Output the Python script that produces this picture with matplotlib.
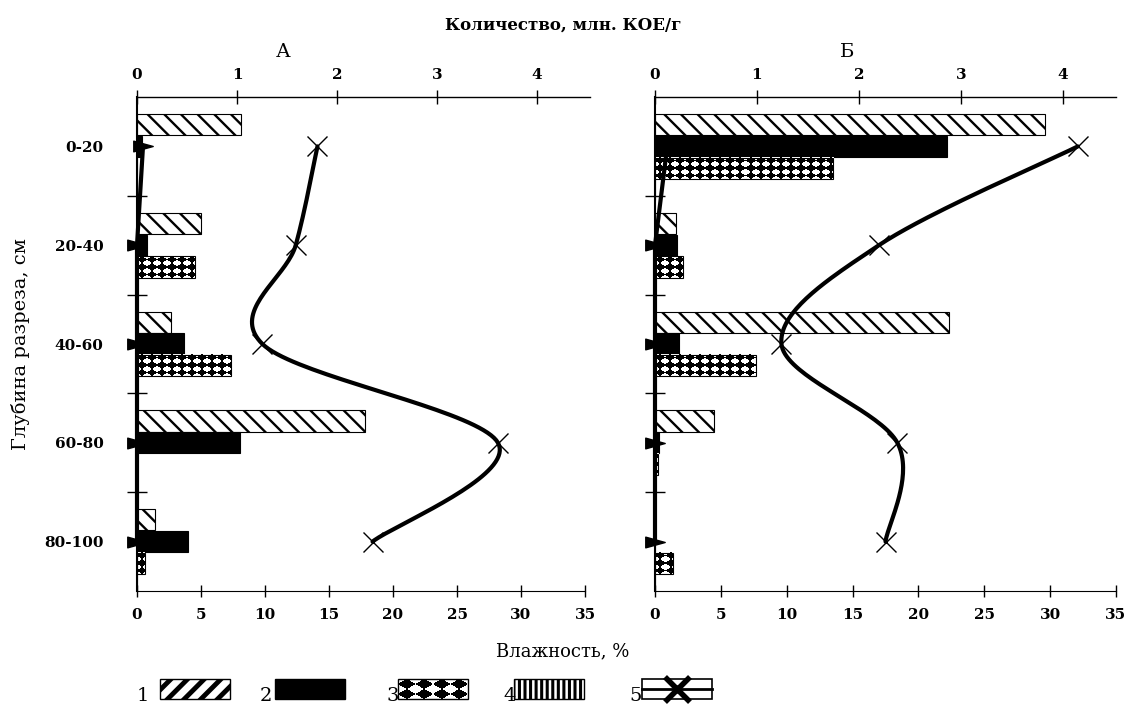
import numpy as np
import matplotlib
matplotlib.use("Agg")
import matplotlib.pyplot as plt
from matplotlib.path import Path
from matplotlib.patches import Rectangle

# ---------------- data ----------------
depths = ['0-20', '20-40', '40-60', '60-80', '80-100']
count_ticks = [0, 1, 2, 3, 4]
moist_ticks = [0, 5, 10, 15, 20, 25, 30, 35]

# Panel A  (Количество, млн. КОЕ/г)
A_s1 = [1.04, 0.64, 0.34, 2.28, 0.18]
A_s2 = [0.05, 0.10, 0.47, 1.03, 0.51]
A_s3 = [0.00, 0.58, 0.94, 0.00, 0.08]
A_s4 = [0.00, 0.00, 0.00, 0.00, 0.00]
A_tri = [0.06, 0.00, 0.00, 0.00, 0.00]
A_moist = [14.1, 12.4, 9.8, 28.2, 18.4]   # Влажность, %

# Panel Б
B_s1 = [3.82, 0.21, 2.88, 0.58, 0.00]
B_s2 = [2.86, 0.22, 0.24, 0.04, 0.00]
B_s3 = [1.75, 0.27, 0.99, 0.03, 0.18]
B_s4 = [0.00, 0.00, 0.00, 0.00, 0.00]
B_tri = [0.12, 0.00, 0.00, 0.00, 0.00]
B_moist = [32.1, 17.0, 9.6, 18.4, 17.5]

legend_labels = ['1', '2', '3', '4', '5']

# ---------------- style ----------------
SERIF = 'DejaVu Serif'
plt.rcParams['font.family'] = [SERIF]
plt.rcParams['hatch.linewidth'] = 1.7

W, H = 1126, 706
fig = plt.figure(figsize=(W / 100, H / 100), dpi=100)

tri_marker = Path([(-1, -0.55), (1, 0), (-1, 0.55), (-1, -0.55)],
                  [Path.MOVETO, Path.LINETO, Path.LINETO, Path.CLOSEPOLY])


def diamond_img(wpx, hpx, px, py, a, b):
    jj, ii = np.meshgrid(np.arange(wpx) + 0.5, np.arange(hpx) + 0.5)
    dx = (jj % px) - px / 2
    dy = (ii % py) - py / 2
    return np.where(np.abs(dx) / a + np.abs(dy) / b <= 1, 0.0, 1.0)


def smooth(ax, xs, ys, n=40):
    pts = ax.transData.transform(np.column_stack([xs, ys]))
    P = np.vstack([pts[0], pts, pts[-1]])
    out = []
    for i in range(1, len(P) - 2):
        p0, p3 = P[i], P[i + 1]
        c1 = p0 + (P[i + 1] - P[i - 1]) / 6
        c2 = p3 - (P[i + 2] - P[i]) / 6
        t = np.linspace(0, 1, n)[:, None]
        seg = ((1 - t) ** 3) * p0 + 3 * ((1 - t) ** 2) * t * c1 + 3 * (1 - t) * t ** 2 * c2 + t ** 3 * p3
        out.append(seg if i == 1 else seg[1:])
    out = np.vstack(out)
    return ax.transData.inverted().transform(out)


def panel(rect, s1, s2, s3, s4, tri, moist, cmax, mmax, show_y):
    ax = fig.add_axes(rect)
    ax.set_xlim(0, cmax)
    ax.set_ylim(4.5, -0.5)
    y = np.arange(len(depths))
    h = 0.215
    ax.barh(y - 0.22, s1, height=h, color='white', edgecolor='black', hatch='\\\\', lw=0.8, zorder=2)
    ax.barh(y, s2, height=h, color='black', edgecolor='black', lw=0.8, zorder=2)
    ax.barh(y + 0.44, s4, height=h, color='white', edgecolor='black', hatch='||', lw=0.8, zorder=2)
    # series 3: diamond pattern bars
    for yi, v in zip(y + 0.22, s3):
        if v <= 0:
            continue
        p0 = ax.transData.transform((0, yi - h / 2))
        p1 = ax.transData.transform((v, yi + h / 2))
        wpx = int(round(abs(p1[0] - p0[0])))
        hpx = int(round(abs(p1[1] - p0[1])))
        if wpx >= 1 and hpx >= 1:
            img = diamond_img(wpx, hpx, 10, 7, 5.2, 3.6)
            ax.imshow(img, cmap='gray', vmin=0, vmax=1, extent=(0, v, yi + h / 2, yi - h / 2),
                      aspect='auto', interpolation='nearest', zorder=2.1)
    ax.barh(y + 0.22, s3, height=h, fill=False, edgecolor='black', lw=0.8, zorder=2.2)

    # line with triangle markers (counts, near zero)
    ax.plot(tri, y, color='black', lw=3, marker=tri_marker, markersize=14,
            clip_on=False, zorder=5)

    axb = ax.twiny()
    # restore count axis on top
    ax.xaxis.tick_top()
    ax.xaxis.set_label_position('top')
    ax.set_xlim(0, cmax)
    ax.set_ylim(4.5, -0.5)
    ax.set_xticks(count_ticks)
    ax.set_xticklabels([str(t) for t in count_ticks], fontweight='bold', fontsize=11)
    ax.tick_params(axis='x', which='both', top=True, bottom=False, labeltop=True, labelbottom=False,
                   direction='inout', length=10, width=1, pad=6)
    ax.set_yticks(y)
    if show_y:
        ax.set_yticklabels(depths, fontweight='bold', fontsize=11)
    else:
        ax.set_yticklabels([])
    ax.tick_params(axis='y', length=0, pad=24)
    ax.set_yticks([0.5, 1.5, 2.5, 3.5], minor=True)
    ax.tick_params(axis='y', which='minor', direction='inout', length=14, width=1)
    for s in ['right', 'bottom']:
        ax.spines[s].set_visible(False)
    ax.spines['left'].set_linewidth(1.5)
    ax.spines['top'].set_linewidth(1.0)

    axb.set_xlim(0, mmax)
    axb.set_ylim(4.5, -0.5)
    axb.set_xticks(moist_ticks)
    axb.set_xticklabels([str(t) for t in moist_ticks], fontweight='bold', fontsize=11)
    axb.tick_params(axis='x', which='both', top=False, bottom=True, labeltop=False, labelbottom=True,
                    direction='inout', length=9, width=1, pad=8)
    for s in ['right', 'top', 'left']:
        axb.spines[s].set_visible(False)
    axb.spines['bottom'].set_visible(True)
    axb.spines['bottom'].set_bounds(0, 35)
    cv = smooth(axb, moist, y)
    axb.plot(cv[:, 0], cv[:, 1], color='black', lw=3, zorder=6, solid_capstyle='round')
    axb.plot(moist, y, linestyle='none', marker='x', markersize=15, mew=1,
             color='black', zorder=7)
    axb.set_xlim(0, mmax)
    axb.set_ylim(4.5, -0.5)
    return ax


def frac(l, r, t, b):
    return [l / W, 1 - b / H, (r - l) / W, (b - t) / H]


axA = panel(frac(137, 590, 97, 591), A_s1, A_s2, A_s3, A_s4, A_tri, A_moist,
            4.53, (590 - 137) / 12.8, True)
axB = panel(frac(655, 1116, 97, 591), B_s1, B_s2, B_s3, B_s4, B_tri, B_moist,
            4.52, 35.0, False)

axA.set_ylabel('Глубина разреза, см', fontsize=14, labelpad=10)

fig.text(563 / W, 1 - 25 / H, 'Количество, млн. КОЕ/г', ha='center', va='center',
         fontsize=12, fontweight='bold')
fig.text(283 / W, 1 - 52 / H, 'А', ha='center', va='center', fontsize=14)
fig.text(847 / W, 1 - 52 / H, 'Б', ha='center', va='center', fontsize=14)
fig.text(563 / W, 1 - 651 / H, 'Влажность, %', ha='center', va='center', fontsize=13)

# ---------------- legend (pixel-coordinate overlay) ----------------
lg = fig.add_axes([0, 0, 1, 1], zorder=10)
lg.set_xlim(0, W)
lg.set_ylim(H, 0)
lg.axis('off')
lg.patch.set_alpha(0)
num_x = [143, 266, 393, 510, 636]
box_x = [160, 275, 398, 514, 642]
bw, bh, by = 70, 20, 679
for lab, nx in zip(legend_labels, num_x):
    lg.text(nx, 701, lab, ha='center', va='baseline', fontsize=14)
with plt.rc_context({'hatch.linewidth': 3.5}):
    lg.add_patch(Rectangle((box_x[0], by), bw, bh, facecolor='white', edgecolor='black',
                           hatch='//', lw=1))
lg.add_patch(Rectangle((box_x[1], by), bw, bh, facecolor='black', edgecolor='black', lw=1))
img = diamond_img(bw, bh, 17.5, 10, 8.8, 5.2)
lg.imshow(img, cmap='gray', vmin=0, vmax=1,
          extent=(box_x[2], box_x[2] + bw, by + bh, by), aspect='auto',
          interpolation='nearest', zorder=1)
lg.add_patch(Rectangle((box_x[2], by), bw, bh, fill=False, edgecolor='black', lw=1, zorder=2))
with plt.rc_context({'hatch.linewidth': 2.2}):
    lg.add_patch(Rectangle((box_x[3], by), bw, bh, facecolor='white', edgecolor='black',
                           hatch='|||', lw=1))
lg.add_patch(Rectangle((box_x[4], by), bw, bh, facecolor='white', edgecolor='black', lw=1.2))
lg.plot([box_x[4], box_x[4] + bw], [by + bh / 2, by + bh / 2], color='black', lw=2)
lg.plot([box_x[4] + bw / 2], [by + bh / 2], marker='x', markersize=18, mew=4, color='black')
lg.set_xlim(0, W)
lg.set_ylim(H, 0)

fig.savefig('out.png', dpi=100)
